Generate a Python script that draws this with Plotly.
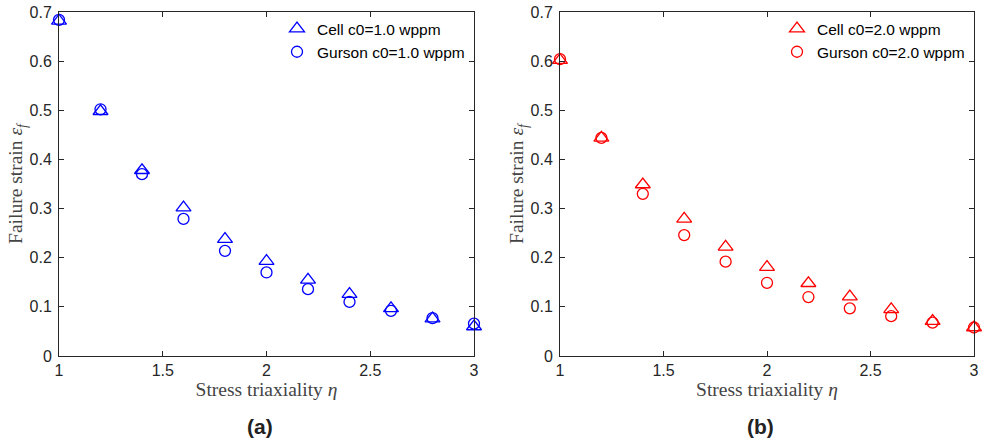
import plotly.graph_objects as go

eta = [1.0, 1.2, 1.4, 1.6, 1.8, 2.0, 2.2, 2.4, 2.6, 2.8, 3.0]
cell_c1 = [0.682, 0.498, 0.378, 0.302, 0.238, 0.193, 0.155, 0.126, 0.097, 0.076, 0.060]
gurson_c1 = [0.684, 0.502, 0.370, 0.279, 0.214, 0.170, 0.136, 0.110, 0.092, 0.077, 0.066]
cell_c2 = [0.602, 0.444, 0.349, 0.279, 0.222, 0.181, 0.148, 0.121, 0.095, 0.071, 0.058]
gurson_c2 = [0.604, 0.444, 0.330, 0.246, 0.192, 0.149, 0.120, 0.097, 0.081, 0.068, 0.058]
x_ticks = [1, 1.5, 2, 2.5, 3]
y_ticks = [0, 0.1, 0.2, 0.3, 0.4, 0.5, 0.6, 0.7]
panel_labels = ["(a)", "(b)"]

BLUE = "#0000FF"
RED = "#FF0000"
SANS = "Liberation Sans, Arial, sans-serif"
SERIF = "Liberation Serif, Times New Roman, serif"
AX = "#262626"

fig = go.Figure()
fig.add_trace(go.Scatter(x=eta, y=cell_c1, mode="markers", name="Cell c0=1.0 wppm", cliponaxis=False,
                         marker=dict(symbol="triangle-up-open", size=13, color=BLUE, line=dict(width=1.3)),
                         xaxis="x", yaxis="y", legend="legend"))
fig.add_trace(go.Scatter(x=eta, y=gurson_c1, mode="markers", name="Gurson c0=1.0 wppm", cliponaxis=False,
                         marker=dict(symbol="circle-open", size=11, color=BLUE, line=dict(width=1.3)),
                         xaxis="x", yaxis="y", legend="legend"))
fig.add_trace(go.Scatter(x=eta, y=cell_c2, mode="markers", name="Cell c0=2.0 wppm", cliponaxis=False,
                         marker=dict(symbol="triangle-up-open", size=13, color=RED, line=dict(width=1.3)),
                         xaxis="x2", yaxis="y2", legend="legend2"))
fig.add_trace(go.Scatter(x=eta, y=gurson_c2, mode="markers", name="Gurson c0=2.0 wppm", cliponaxis=False,
                         marker=dict(symbol="circle-open", size=11, color=RED, line=dict(width=1.3)),
                         xaxis="x2", yaxis="y2", legend="legend2"))

xcommon = dict(range=[1, 3], tickvals=x_ticks, ticks="inside", ticklen=5, tickcolor=AX, automargin=False,
               showline=True, linecolor=AX, linewidth=1, mirror="ticks", showgrid=False, zeroline=False,
               tickfont=dict(family=SANS, size=16, color=AX), ticklabeloverflow="allow",
               title=dict(text="Stress triaxiality <i>η</i>", font=dict(family=SERIF, size=19.5, color="#444444"), standoff=2))
ycommon = dict(range=[0, 0.7], tickvals=y_ticks, ticks="inside", ticklen=5, tickcolor=AX, automargin=False,
               showline=True, linecolor=AX, linewidth=1, mirror="ticks", showgrid=False, zeroline=False,
               tickfont=dict(family=SANS, size=16, color=AX), ticklabeloverflow="allow", ticklabelstandoff=3,
               title=dict(text="Failure strain <i>ε<sub>f</sub></i>", font=dict(family=SERIF, size=19.5, color="#444444"), standoff=0))

ylo, yhi = 1 - 356 / 442, 1 - 12 / 442
fig.update_layout(
    template="none",
    width=982, height=442,
    margin=dict(l=0, r=0, t=0, b=0, autoexpand=False),
    paper_bgcolor="white", plot_bgcolor="white",
    xaxis=dict(domain=[59 / 982, 474 / 982], anchor="y", **xcommon),
    yaxis=dict(domain=[ylo, yhi], anchor="x", **ycommon),
    xaxis2=dict(domain=[560 / 982, 974 / 982], anchor="y2", **xcommon),
    yaxis2=dict(domain=[ylo, yhi], anchor="x2", **ycommon),
    legend=dict(x=470 / 982, y=1 - 12 / 442, xanchor="right", yanchor="top",
                bgcolor="rgba(0,0,0,0)", font=dict(family=SANS, size=15.5, color="black"),
                tracegroupgap=0, itemwidth=30),
    legend2=dict(x=970 / 982, y=1 - 12 / 442, xanchor="right", yanchor="top",
                 bgcolor="rgba(0,0,0,0)", font=dict(family=SANS, size=15.5, color="black"),
                 tracegroupgap=0, itemwidth=30),
    showlegend=True,
)

for xc, lab in zip([260 / 982, 760 / 982], panel_labels):
    fig.add_annotation(x=xc, y=1 - 426 / 442, xref="paper", yref="paper", text="<b>" + lab + "</b>",
                       xanchor="center", yanchor="middle",
                       showarrow=False, font=dict(family=SANS, size=21, color="#222222"))

fig.write_html("out.html", config={"displayModeBar": False},
               post_script="document.body.style.margin='0';document.body.style.overflow='hidden';")
